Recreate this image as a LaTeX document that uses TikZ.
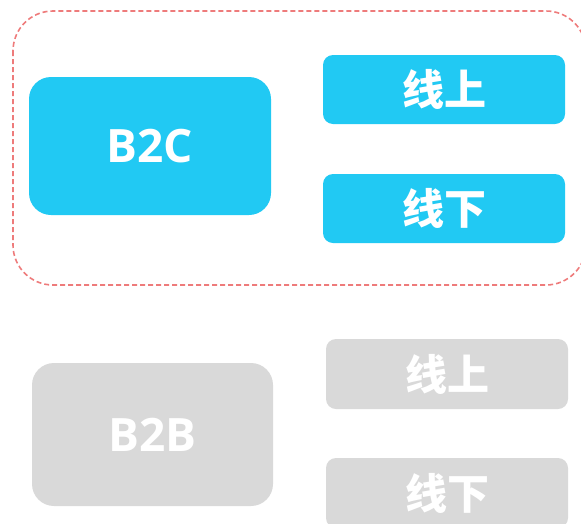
\documentclass[tikz,border=0pt]{standalone}
\usepackage{fontspec}
\setmainfont{Open Sans}
\newfontfamily\cjk{Noto Sans CJK SC}
\definecolor{skyb}{HTML}{21C9F3}
\definecolor{greyb}{HTML}{D9D9D9}
\definecolor{dashred}{HTML}{EE7B7B}
\begin{document}
\begin{tikzpicture}[x=1pt,y=-1pt,
  bigbox/.style={rounded corners=22pt,text=white,font=\bfseries\fontsize{46}{46}\selectfont,inner sep=0pt,minimum width=242pt,minimum height=140pt},
  smallbox/.style={rounded corners=10pt,text=white,font=\cjk\bfseries\fontsize{42}{42}\selectfont,inner sep=0pt,minimum width=242pt,minimum height=69pt}]
\useasboundingbox (0,0) rectangle (581,523);
\clip (0,0) rectangle (581,523);
\draw[dashred,line width=1.6pt,dash pattern=on 5pt off 3pt,rounded corners=40pt] (13,11) rectangle (586,285);
% B2C group
\node[bigbox,fill=skyb,minimum height=138pt] (b2c) at (150,146) {B2C};
\node[smallbox,fill=skyb] (on1) at (444,89.5) {线上};
\node[smallbox,fill=skyb] (off1) at (444,208.5) {线下};
% B2B group
\node[bigbox,fill=greyb,minimum width=241pt,minimum height=143pt] (b2b) at (152.5,434.5) {B2B};
\node[smallbox,fill=greyb,minimum height=70pt] (on2) at (447,374) {线上};
\node[smallbox,fill=greyb,minimum height=70pt] (off2) at (447,493) {线下};
\end{tikzpicture}
\end{document}
